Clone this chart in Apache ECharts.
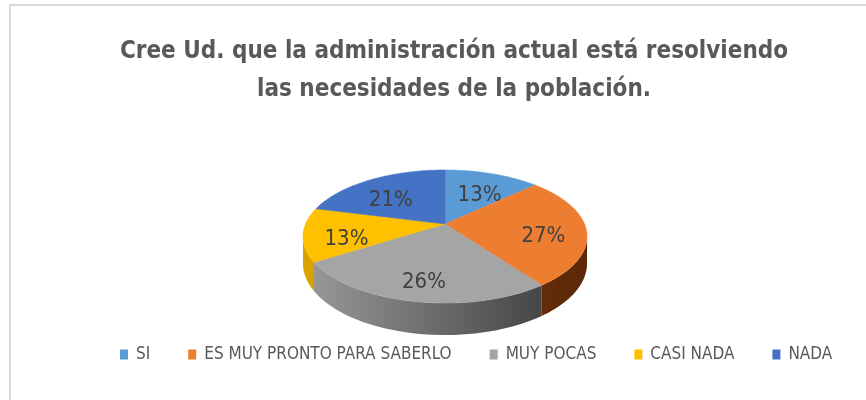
<!DOCTYPE html>
<html>
<head>
<meta charset="utf-8">
<script src="https://cdn.jsdelivr.net/npm/echarts@6/dist/echarts.min.js"></script>
<style>
  html, body { margin: 0; padding: 0; background: #fff; }
  #chart { width: 866px; height: 400px; }
</style>
</head>
<body>
<div id="chart"></div>
<script>
const categories = ['SI', 'ES MUY PRONTO PARA SABERLO', 'MUY POCAS', 'CASI NADA', 'NADA'];
const percents = [13, 27, 26, 13, 21];
const topColors = ['#5b9bd5', '#ed7d31', '#a5a5a5', '#ffc000', '#4472c4'];
// side wall colours: left -> right
const sideColors = [['#3c76aa', '#2d5c88'], ['#8a4313', '#5c2808'], ['#9a9a9a', '#363636'], ['#d9a400', '#b58700'], ['#2e58a2', '#22427e']];

const font = '"Liberation Sans Narrow", "DejaVu Sans Condensed", Roboto, sans-serif';

// 3d pie look (perspective ellipse)
const cx = 445, cy = 224, rx = 139.5, ry = 64.2, persp = 0.188, depth = 26;

const total = percents.reduce((a, b) => a + b, 0);
const startAngle = [];
let acc = 0;
percents.forEach(v => {
  startAngle.push(acc / total * Math.PI * 2);
  acc += v;
});
const sideFrom = Math.acos(-persp);
const sideTo = Math.PI * 2 - sideFrom;

function project(ang, r, down) {
  const u = -Math.cos(ang) * r;
  const w = 1 - persp * u;
  const w1 = 1 + persp * Math.cos(ang);
  return [cx + rx * Math.sin(ang) * r / w, cy + ry * u / w + (down ? depth / w1 : 0)];
}

const renderSlice = (i) => (params, api) => {
  const a0 = startAngle[i];
  const a1 = a0 + percents[i] / total * Math.PI * 2;
  const children = [];

  // visible side wall
  const s0 = Math.max(a0, sideFrom), s1 = Math.min(a1, sideTo);
  if (s1 > s0) {
    const topRim = [], bottomRim = [];
    for (let k = 0; k <= 40; k++) {
      const a = s0 + (s1 - s0) * k / 40;
      topRim.push(project(a, 1, false));
      bottomRim.unshift(project(a, 1, true));
    }
    children.push({
      type: 'polygon', z2: 1,
      shape: {points: topRim.concat(bottomRim)},
      style: {
        fill: {
          type: 'linear', x: cx - rx * 1.02, y: 0, x2: cx + rx * 1.02, y2: 0, global: true,
          colorStops: [{offset: 0, color: sideColors[i][0]}, {offset: 1, color: sideColors[i][1]}]
        }
      }
    });
  }

  // top face
  const pts = [project(0, 0, false)];
  for (let k = 0; k <= 40; k++) {
    pts.push(project(a0 + (a1 - a0) * k / 40, 1, false));
  }
  children.push({
    type: 'polygon', z2: 10,
    shape: {points: pts},
    style: {fill: topColors[i], stroke: topColors[i], lineWidth: 0.5}
  });

  // percentage label
  const lp = project((a0 + a1) / 2, 0.7, false);
  children.push({
    type: 'text', z2: 20, x: lp[0], y: lp[1] + 8,
    style: {text: percents[i] + '%', fill: '#404040', font: '22px ' + font, align: 'center', verticalAlign: 'middle'}
  });
  return {type: 'group', children: children};
};

const chart = echarts.init(document.getElementById('chart'));
const option = {
  backgroundColor: '#fff',
  animation: false,
  title: {
    text: 'Cree Ud. que la administración actual está resolviendo\nlas necesidades de la población.',
    left: 449,
    textAlign: 'center',
    top: 28,
    textStyle: {fontSize: 24, fontWeight: 'bold', color: '#595959', lineHeight: 38, fontFamily: font}
  },
  legend: {
    data: categories,
    top: 341,
    left: 115,
    icon: 'rect',
    itemWidth: 8,
    itemHeight: 10,
    itemGap: 38,
    textStyle: {color: '#595959', fontSize: 17, fontFamily: font, padding: [0, 0, 0, 3]}
  },
  graphic: [{
    type: 'rect', silent: true, z: -1,
    shape: {x: 10, y: 5, width: 900, height: 420},
    style: {fill: 'none', stroke: '#d9d9d9', lineWidth: 2}
  }],
  series: categories.map((name, i) => ({
    name: name,
    type: 'custom',
    coordinateSystem: 'none',
    silent: true,
    itemStyle: {color: topColors[i]},
    data: [[percents[i]]],
    renderItem: renderSlice(i)
  }))
};
chart.setOption(option);
</script>
</body>
</html>
